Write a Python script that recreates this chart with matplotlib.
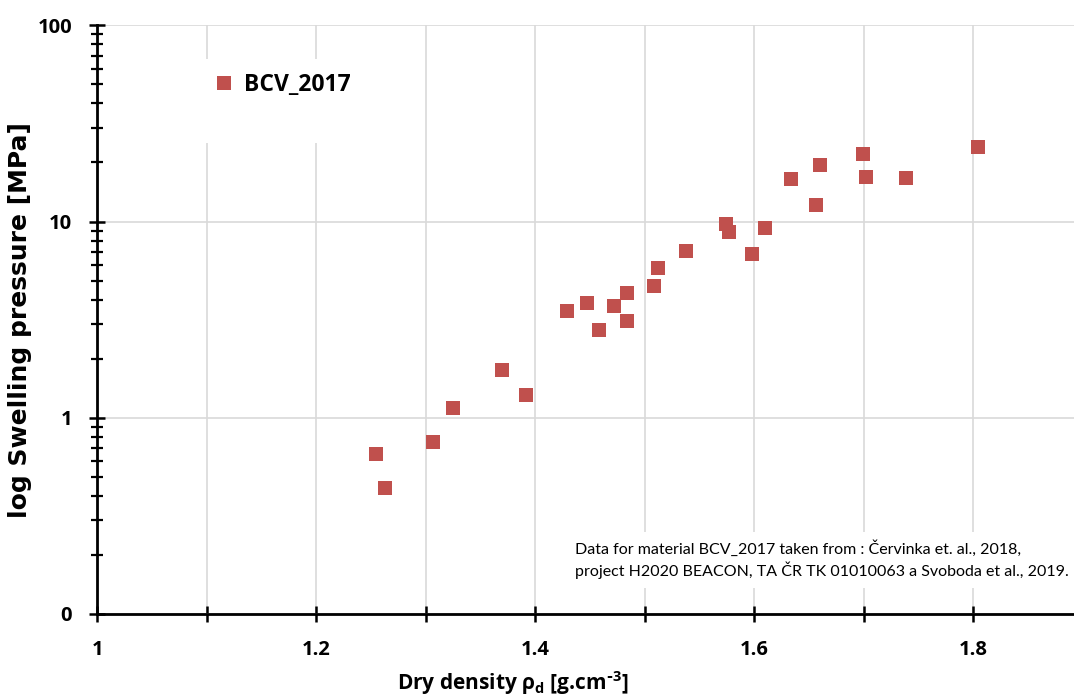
import numpy as np
import matplotlib
matplotlib.use('Agg')
import matplotlib.pyplot as plt
from matplotlib.patches import Rectangle
from matplotlib.ticker import MultipleLocator, LogLocator, FuncFormatter, FixedLocator

plt.rcParams['font.family'] = ['Open Sans', 'DejaVu Sans']
plt.rcParams['font.weight'] = 'bold'
plt.rcParams['axes.labelweight'] = 'bold'
plt.rcParams['mathtext.default'] = 'regular'

# BCV_2017 data: dry density [g/cm3], swelling pressure [MPa]
dry_density = [1.2545, 1.2627, 1.3066, 1.3248, 1.3696, 1.3915, 1.4289, 1.4472,
               1.4582, 1.4719, 1.4837, 1.4837, 1.5084, 1.5120, 1.5376, 1.5741,
               1.5769, 1.5979, 1.6097, 1.6335, 1.6563, 1.6600, 1.6992, 1.7020,
               1.7385, 1.8043]
swelling_pressure = [0.653, 0.44, 0.75, 1.12, 1.75, 1.31, 3.49, 3.83,
                     2.79, 3.70, 4.31, 3.10, 4.68, 5.78, 7.05, 9.68,
                     8.81, 6.81, 9.24, 16.4, 12.2, 19.3, 22.0, 16.8,
                     16.6, 23.9]
series_name = 'BCV_2017'
y_ticks = [0.1, 1, 10, 100]
note = ('Data for material BCV_2017 taken from : Červinka et. al., 2018,\n'
        'project H2020 BEACON, TA ČR TK 01010063 a Svoboda et al., 2019.')

red = '#C0504D'
grid_c = '#D9D9D9'

fig = plt.figure(figsize=(10.74, 6.97), dpi=100)
ax = fig.add_axes([0.0906, 0.1191, 0.9094, 0.8446])

ax.plot(dry_density, swelling_pressure, 's', color=red, markersize=10.1,
        markeredgewidth=0, label=series_name, zorder=5)

ax.set_yscale('log')
ax.set_ylim(0.1, 100)
ax.set_xlim(1, 1.892)

ax.xaxis.set_major_locator(MultipleLocator(0.1))
ax.xaxis.set_major_formatter(FuncFormatter(
    lambda v, p: f'{v:g}' if round(v * 10) % 2 == 0 else ''))
ax.yaxis.set_major_locator(FixedLocator(y_ticks))
ax.yaxis.set_minor_locator(LogLocator(base=10, subs=np.arange(2, 10)))
ax.yaxis.set_major_formatter(FuncFormatter(lambda v, p: f'{v:.0f}'))
ax.yaxis.set_minor_formatter(FuncFormatter(lambda v, p: ''))

ax.grid(True, which='major', color=grid_c, linewidth=1.2, zorder=0)
ax.set_axisbelow(True)

for s in ['top', 'right']:
    ax.spines[s].set_visible(False)
for s in ['left', 'bottom']:
    ax.spines[s].set_linewidth(2)

ax.tick_params(axis='both', which='major', direction='inout', length=11.5,
               width=1.8, labelsize=14.5)
ax.tick_params(axis='y', which='major', pad=12.5)
ax.tick_params(axis='y', which='minor', direction='inout', length=9, width=1.6)
ax.tick_params(axis='x', which='major', pad=13)

ax.set_ylabel('log Swelling pressure [MPa]', fontsize=18, fontweight='bold',
              family='DejaVu Sans')
ax.yaxis.set_label_coords(-0.0668, 0.5)
fig.text(0.477, 0.02, r'Dry density ρ$_d$ [g.cm$^{\text{-}3}$]', fontsize=15,
         ha='center', va='center')

# white legend area (covers the gridlines like the original)
ax.add_patch(Rectangle((0.0847, 0.800), 0.2047, 0.1427, transform=ax.transAxes,
                       facecolor='white', edgecolor='none', zorder=2))
leg = ax.legend(loc='center left', bbox_to_anchor=(0.1203, 0.8986),
                frameon=False, borderpad=0, borderaxespad=0,
                handlelength=0.8, handletextpad=0.48,
                prop={'size': 16.5, 'weight': 'bold'})
leg.set_zorder(6)

ax.text(0.489, 0.092, note, transform=ax.transAxes, fontsize=11.5,
        fontweight='normal', family=['Lato', 'DejaVu Sans'],
        ha='left', va='center', linespacing=1.35, zorder=6,
        bbox=dict(facecolor='white', edgecolor='none', pad=6))

fig.savefig('out.png', dpi=100)
